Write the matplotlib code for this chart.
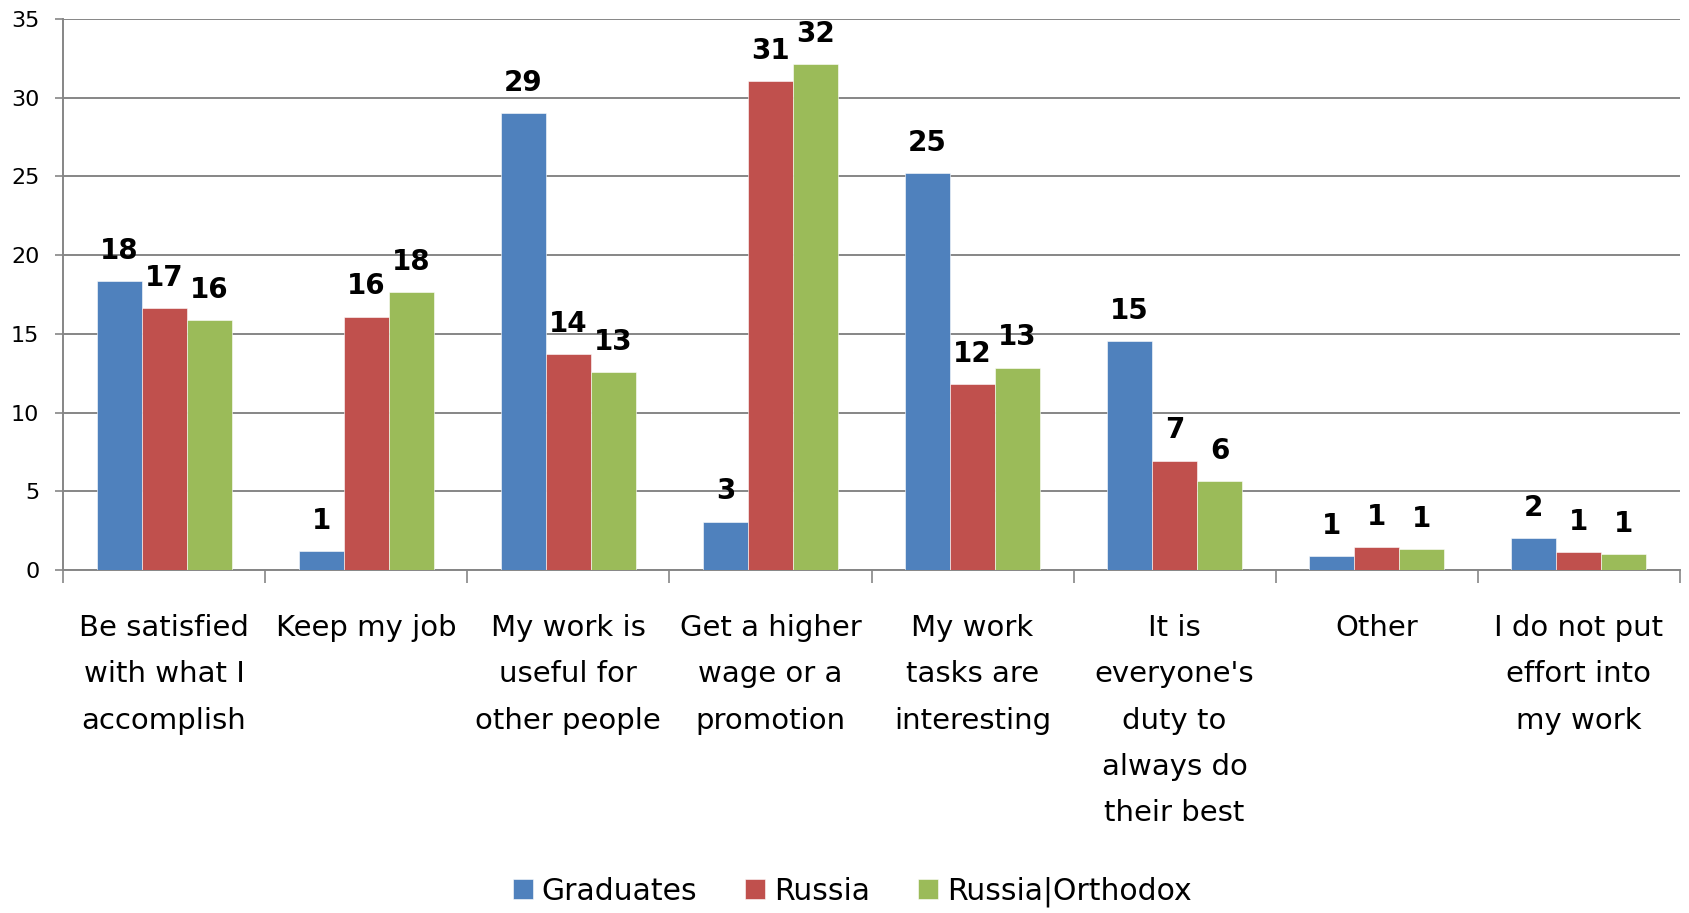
import numpy as np
import matplotlib
matplotlib.use("Agg")
from matplotlib import pyplot as plt
from matplotlib.ticker import FixedLocator, NullFormatter

plt.rcParams['font.family'] = ['DejaVu Sans']

# data
categories = [
    "Be satisfied\nwith what I\naccomplish",
    "Keep my job",
    "My work is\nuseful for\nother people",
    "Get a higher\nwage or a\npromotion",
    "My work\ntasks are\ninteresting",
    "It is\neveryone's\nduty to\nalways do\ntheir best",
    "Other",
    "I do not put\neffort into\nmy work",
]
series_names = ["Graduates", "Russia", "Russia|Orthodox"]
graduates = [18.35, 1.2, 29.0, 3.07, 25.2, 14.55, 0.87, 2.05]
russia = [16.65, 16.1, 13.7, 31.05, 11.8, 6.95, 1.43, 1.15]
orthodox = [15.85, 17.65, 12.55, 32.15, 12.85, 5.65, 1.35, 1.02]
colors = ["#4F81BD", "#C0504D", "#9BBB59"]
y_ticks = [0, 5, 10, 15, 20, 25, 30, 35]

fig = plt.figure(figsize=(16.89, 9.13), dpi=100)
ax = fig.add_axes([63 / 1689, 1 - 570 / 913, (1680 - 63) / 1689, (570 - 19) / 913])

x = np.arange(len(categories))
w = 45 / 202
grey = "#868686"

for j, (vals, name, c) in enumerate(zip([graduates, russia, orthodox], series_names, colors)):
    pos = x + (j - 1) * w
    ax.bar(pos, vals, width=w, color=c, label=name, zorder=3,
           edgecolor="white", linewidth=0.4)
    for px, v in zip(pos, vals):
        ax.annotate(str(int(round(v))), (px, v), xytext=(0, 16), textcoords="offset points",
                    ha="center", va="baseline", fontsize=20, fontweight="bold", color="black")

ax.set_xlim(-0.5, len(categories) - 0.5)
ax.set_ylim(0, 35)
ax.set_yticks(y_ticks)
ax.set_yticklabels([str(t) for t in y_ticks], fontsize=16)
ax.tick_params(axis="y", length=6, width=1.2, color=grey, pad=11)
ax.yaxis.grid(True, color=grey, linewidth=1.4, zorder=0)
ax.set_axisbelow(True)

ax.xaxis.set_major_locator(FixedLocator(np.arange(-0.5, len(categories), 1.0)))
ax.xaxis.set_major_formatter(NullFormatter())
ax.xaxis.set_minor_locator(FixedLocator(x))
ax.set_xticklabels(categories, minor=True, fontsize=21, linespacing=1.82, va="top")
ax.tick_params(axis="x", which="major", length=9, width=1.2, color=grey)
ax.tick_params(axis="x", which="minor", length=0, pad=32)

for s in ["top", "right"]:
    ax.spines[s].set_visible(False)
for s in ["left", "bottom"]:
    ax.spines[s].set_color(grey)
    ax.spines[s].set_linewidth(1.4)

fig.legend(loc="center", bbox_to_anchor=(852 / 1689, 1 - 892 / 913), ncol=3, frameon=False,
           fontsize=21.5, handlelength=0.67, handleheight=0.67, handletextpad=0.3,
           columnspacing=1.6)

fig.savefig("out.png", dpi=100)
